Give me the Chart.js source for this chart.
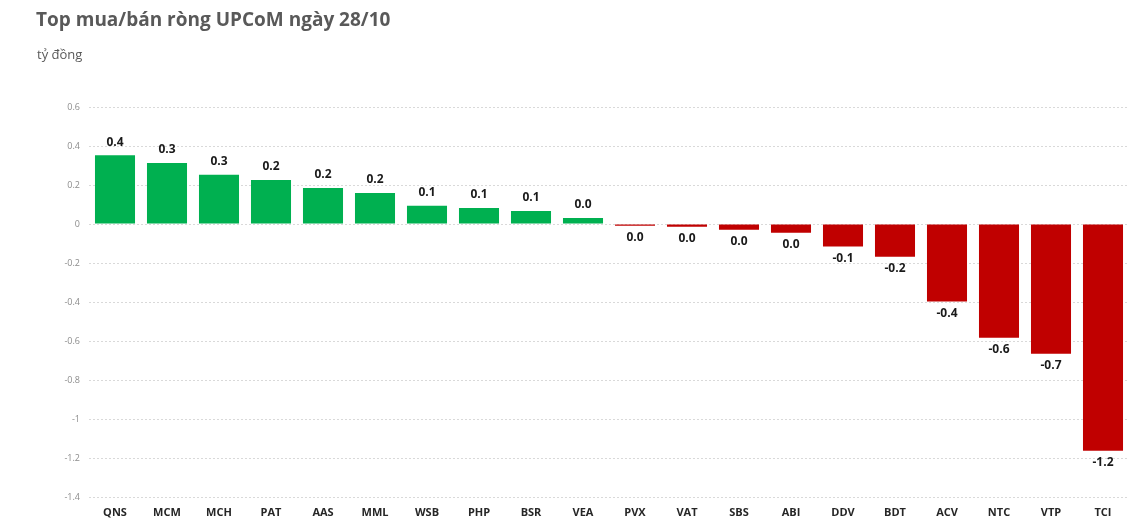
<!DOCTYPE html>
<html>
<head>
<meta charset="utf-8">
<script src="https://cdn.jsdelivr.net/npm/chart.js@4"></script>
<style>
  body { margin: 0; background: #fff; }
  .wrap { position: relative; width: 1131px; height: 523px; }
  .title { position: absolute; left: 36px; top: 6px; font: bold 19px "Open Sans", sans-serif; color: #595959; }
  .unit { position: absolute; left: 37px; top: 45px; font: 13px "Open Sans", sans-serif; color: #595959; }
  canvas { position: absolute; left: 0; top: 0; }
</style>
</head>
<body>
<div class="wrap">
  <canvas id="myChart" width="1131" height="523"></canvas>
  <div class="title">Top mua/bán ròng UPCoM ngày 28/10</div>
  <div class="unit">tỷ đồng</div>
</div>
<script>
const tickers = ["QNS", "MCM", "MCH", "PAT", "AAS", "MML", "WSB", "PHP", "BSR", "VEA",
  "PVX", "VAT", "SBS", "ABI", "DDV", "BDT", "ACV", "NTC", "VTP", "TCI"];
const netValues = [0.352, 0.313, 0.252, 0.226, 0.185, 0.159, 0.094, 0.082, 0.067, 0.031,
  -0.009, -0.014, -0.029, -0.045, -0.116, -0.168, -0.398, -0.583, -0.665, -1.163];
const yTicks = [0.6, 0.4, 0.2, 0, -0.2, -0.4, -0.6, -0.8, -1, -1.2, -1.4];

const green = "#00b050";
const red = "#c00000";

const fmt = (v) => (Math.abs(v) < 0.05 ? "0.0" : v.toFixed(1));

// value labels above / below each bar
const barLabels = {
  id: "barLabels",
  afterDatasetsDraw(chart) {
    const ctx = chart.ctx;
    const meta = chart.getDatasetMeta(0);
    ctx.save();
    ctx.font = "bold 12px 'Open Sans', sans-serif";
    ctx.fillStyle = "#1a1a1a";
    ctx.textAlign = "center";
    ctx.textBaseline = "middle";
    meta.data.forEach((bar, i) => {
      const v = netValues[i];
      const y = v >= 0 ? bar.y - 13 : bar.y + 12;
      ctx.fillText(fmt(v), bar.x, y);
    });
    ctx.restore();
  },
};

const ctx = document.getElementById("myChart");
new Chart(ctx, {
  type: "bar",
  data: {
    labels: tickers,
    datasets: [
      {
        data: netValues,
        backgroundColor: netValues.map((v) => (v >= 0 ? green : red)),
        borderWidth: 0,
        categoryPercentage: 1,
        barPercentage: 0.77,
      },
    ],
  },
  options: {
    responsive: false,
    animation: false,
    layout: { padding: { top: 107, right: 2, bottom: 2, left: 0 } },
    plugins: { legend: { display: false }, tooltip: { enabled: false } },
    scales: {
      x: {
        grid: { display: false, drawTicks: false },
        border: { display: false },
        afterFit: (scale) => {
          scale.height = 24;
        },
        ticks: {
          color: "#262626",
          font: { family: "'Open Sans', sans-serif", size: 11, weight: "bold" },
          padding: 9,
          maxRotation: 0,
        },
      },
      y: {
        min: -1.4,
        max: 0.6,
        afterBuildTicks: (scale) => {
          scale.ticks = yTicks.map((v) => ({ value: v }));
        },
        afterFit: (scale) => {
          scale.width = 89;
        },
        grid: { color: "#d9d9d9", drawTicks: false },
        border: { display: false, dash: [2, 2] },
        ticks: {
          color: "#8c8c8c",
          font: { family: "'Open Sans', sans-serif", size: 9 },
          padding: 9,
          callback: (v) => String(Math.round(v * 10) / 10),
        },
      },
    },
  },
  plugins: [barLabels],
});
</script>
</body>
</html>
